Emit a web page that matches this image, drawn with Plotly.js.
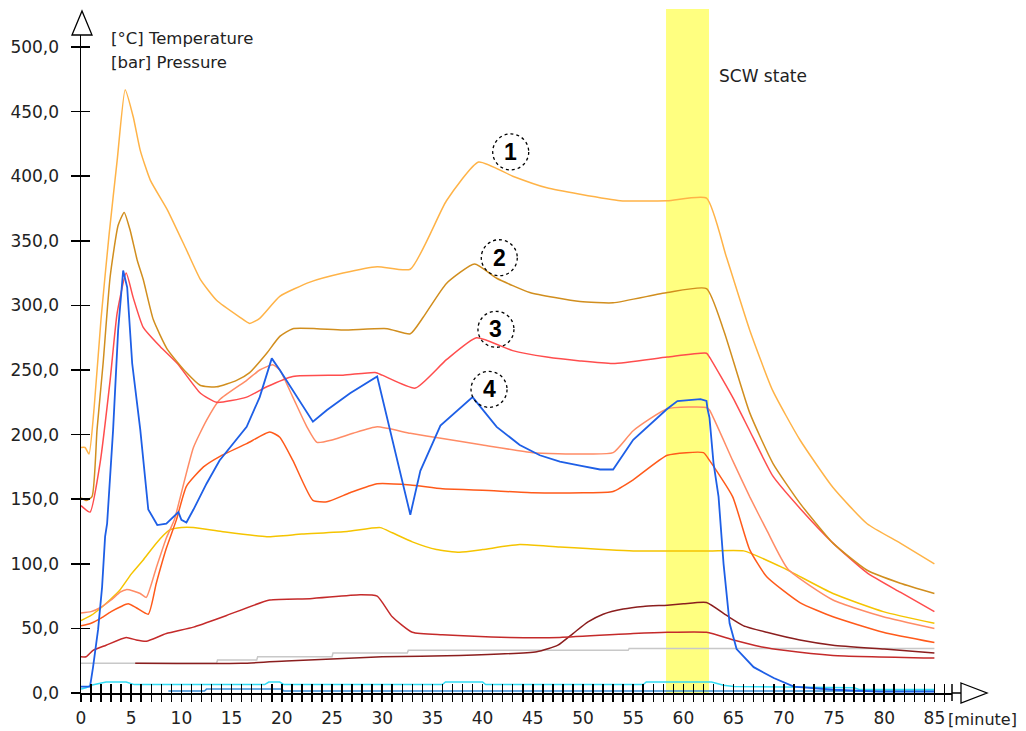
<!DOCTYPE html>
<html>
<head>
<meta charset="utf-8">
<script src="https://cdn.plot.ly/plotly-3.0.1.min.js"></script>
<style>html,body{margin:0;padding:0;background:#fff;}#chart{width:1026px;height:731px;}</style>
</head>
<body>
<div id="chart"></div>
<script>
// ---- data (minutes / values) ----
const t1 = [0, 0.4, 0.8, 1.3, 2, 2.8, 3.6, 4.4, 5.2, 5.9, 6.9, 8.6, 10.5, 11.9, 13.5, 15.8, 16.8, 17.8, 19.8, 22.8, 26.1, 29.5, 32.8, 36.4, 39.6, 43, 46.4, 49.7, 53.7, 58.4, 62.3, 64.3, 66.6, 68.9, 71.6, 74.9, 78.3, 81.6, 85];
const v1 = [190, 190, 185, 220, 290, 355, 412, 467, 446, 420, 397, 374, 343, 320, 304, 291, 286, 290, 307, 318, 325, 330, 328, 381, 411, 400, 391, 386, 381, 381, 383, 337, 281, 234, 196, 159, 131, 116, 100];

const t2 = [0, 0.5, 1.1, 1.6, 2.2, 2.9, 3.7, 4.3, 4.9, 5.6, 6.2, 7.2, 8.6, 10.5, 11.9, 13.5, 15.5, 16.8, 18.5, 19.8, 21.1, 23.5, 26.1, 30.5, 32.8, 34.1, 36.4, 39.2, 41.4, 44.7, 49.7, 53, 58.4, 62.3, 64, 66.6, 68.9, 71.6, 74.9, 78.3, 81.6, 85];
const v2 = [151, 149, 152, 204, 255, 322, 362, 372, 358, 335, 320, 289, 266, 248, 238, 237, 242, 248, 263, 276, 282, 282, 281, 282, 278, 291, 317, 332, 321, 310, 303, 302, 310, 313, 281, 217, 178, 147, 116, 95, 85, 77];

const t3 = [0, 0.9, 1.9, 2.9, 3.6, 4.5, 5.2, 6.2, 7.9, 9.6, 11.9, 13.5, 16.5, 18.5, 21.1, 26.1, 29.3, 30, 33.3, 36.4, 39.4, 43, 46.4, 49.7, 53, 58.4, 62.3, 62.6, 64.9, 66.6, 68.9, 71.6, 74.9, 78.3, 81.6, 85];
const v3 = [145, 140, 178, 242, 294, 325, 306, 283, 268, 255, 232, 225, 229, 237, 245, 246, 248, 246, 236, 258, 275, 265, 260, 257, 255, 260, 263, 260, 229, 203, 168, 143, 116, 93, 78, 63];

const t4 = [0, 0.9, 1.2, 1.7, 2.1, 2.4, 2.6, 3.2, 3.7, 4.2, 4.6, 5.1, 5.9, 6.7, 7.6, 8.5, 9.7, 10, 10.5, 11.2, 12.5, 13.8, 16.5, 17.8, 19, 19.8, 23.1, 24.5, 26.8, 29.5, 32.8, 33.8, 35.8, 39, 41.4, 43.7, 45.7, 47.7, 49.7, 51.7, 53, 55, 58.4, 59.4, 61.7, 62.3, 62.4, 62.6, 63, 63.5, 64, 64.6, 65.3, 67, 69, 71, 75, 79.5, 85];
const v4 = [5, 5, 20, 49, 82, 121, 131, 204, 281, 327, 314, 255, 204, 142, 130, 131, 140, 134, 132, 142, 162, 180, 206, 229, 259, 250, 210, 219, 232, 245, 138, 172, 207, 229, 206, 192, 184, 179, 176, 173, 173, 196, 220, 226, 227.5, 226, 220, 213, 178, 152, 100, 54, 34, 20, 11.6, 5, 2.5, 1, 1];

const t5 = [0, 1, 1.9, 3, 3.9, 4.5, 5.2, 5.9, 6.5, 7.5, 8.5, 9.3, 9.9, 11.2, 12.5, 13.8, 16.5, 17.8, 19.1, 19.8, 21.1, 22.5, 23.5, 25.1, 27.1, 29.5, 32.8, 36, 40, 45, 50, 53, 55, 58.4, 62.3, 62.6, 64.9, 66.6, 68.3, 70.4, 74.9, 79.9, 85];
const v5 = [62, 63, 66, 72, 78, 80, 79, 77, 74, 97, 120, 134, 152, 190, 211, 227, 242, 250, 254, 250, 229, 206, 194, 196, 201, 206, 201, 197, 192, 186, 185, 186, 203, 220, 221, 219, 180, 152, 126, 96, 72, 59, 50];

const t6 = [0, 1, 2, 3, 4, 4.7, 5.5, 6.7, 7.5, 8.5, 9.5, 10.5, 12.2, 13.8, 16.5, 18.8, 19.8, 21.1, 23.1, 24.5, 26.8, 29.5, 32.8, 36, 40, 45, 50, 53, 55, 58.4, 62, 62.6, 64.9, 66.6, 68.3, 71.6, 74.9, 79.9, 85];
const v6 = [52, 54, 58, 63, 67, 69, 66, 61, 85, 112, 134, 160, 175, 183, 193, 202, 198, 180, 149, 148, 155, 162, 161, 158, 157, 155, 155, 156, 165, 184, 186, 180, 152, 111, 90, 70, 59, 47, 39];

const t7 = [0, 1, 2, 3, 3.9, 5, 6.2, 7.5, 8.8, 10, 11.2, 14, 18.5, 22, 26.5, 29.8, 31, 33, 35.4, 37.7, 40, 43.7, 47.7, 55, 62.6, 66, 69.9, 74.9, 79.9, 85];
const v7 = [56, 60, 66, 73, 80, 92, 103, 116, 126, 128, 128, 125, 121, 123, 125, 128, 124, 117, 111, 109, 111, 115, 113, 110, 110, 110, 97, 77, 63, 54];

const t8 = [0, 0.5, 1.2, 2.5, 4.5, 5.5, 6.5, 8.5, 11.2, 14.5, 18.8, 22.8, 27.8, 29.5, 31, 33, 36, 42.7, 47.7, 55, 58.4, 62.3, 65, 67.6, 70, 74.9, 85];
const v8 = [28, 28, 33, 37, 43, 41, 40, 46, 51, 60, 72, 73, 76, 75, 59, 47, 45, 43, 43, 46, 47, 47, 41, 36, 33, 29, 27];

const t9 = [5.4, 16, 21, 30, 37.7, 45.4, 47.5, 49, 50.5, 52, 54, 56, 58.4, 60, 62.3, 64.3, 66, 68.3, 71.6, 74.9, 80, 85];
const v9 = [23, 23, 25, 28, 29, 32, 37, 46, 55, 61, 65, 67, 68, 69, 70, 60, 52, 47, 41, 37, 34, 31];

const t10 = [0, 13.5, 13.6, 17.5, 17.6, 25, 25.1, 32.5, 32.6, 54.5, 54.6, 85];
const v10 = [23, 23, 25.5, 25.5, 28, 28, 31, 31, 33, 33, 34.5, 34.5];

const t11 = [0, 0.5, 1, 2.5, 4.5, 5.3, 18.3, 18.7, 19.8, 20.2, 36, 36.3, 40, 40.3, 56, 56.3, 62.8, 64, 65, 77, 77.5, 85];
const v11 = [3, 4, 6, 8.5, 8.5, 6.5, 6.5, 8.5, 8.5, 6.5, 6.5, 8.5, 8.5, 6.5, 6.5, 8.5, 8.5, 6, 5, 4, 2.8, 2.8];

const t12 = [8.7, 12.3, 12.5, 20, 20.2, 85];
const v12 = [1.5, 1.5, 3, 3, 1.5, 1.5];

const scwStart = 58.27, scwEnd = 62.55;
const markerTime = [30], markerLevel = [-9.3];
const curveLabels = ['1', '2', '3', '4'];
const labelTime = [42.8, 41.66, 41.33, 40.64];
const labelLevel = [418.8, 336.9, 281.5, 235];

// ---- traces ----
function line(t, v, color, w, smooth) {
  const ln = {color: color, width: w || 1.5};
  if (smooth) { ln.shape = 'spline'; ln.smoothing = smooth; }
  return {x: t, y: v, type: 'scatter', mode: 'lines', line: ln, hoverinfo: 'skip'};
}
const traces = [
  line(t10, v10, '#C8C8C8'),
  line(t12, v12, '#3A8ED6'),
  line(t11, v11, '#33DDF5'),
  line(t9, v9, '#8B1E1E', 1.5, 0.5),
  line(t8, v8, '#C42A2A', 1.5, 0.5),
  line(t7, v7, '#F5C400', 1.5, 0.5),
  line(t6, v6, '#FF5A1A', 1.5, 0.5),
  line(t5, v5, '#FF8C66', 1.5, 0.5),
  line(t3, v3, '#FF4D4D', 1.5, 0.5),
  line(t2, v2, '#D18E1E', 1.5, 0.5),
  line(t1, v1, '#FFB347', 1.5, 0.5),
  line(t4, v4, '#1E5FE6', 1.8),
  {x: markerTime, y: markerLevel, type: 'scatter', mode: 'markers', cliponaxis: false,
   marker: {color: '#FFFF00', size: 18, line: {width: 0}}, hoverinfo: 'skip'},
  {x: [], y: [], xaxis: 'x2', yaxis: 'y2', type: 'scatter', mode: 'lines', hoverinfo: 'skip'}
];

const FONT = 'DejaVu Sans, Verdana, sans-serif';
const L = 81, R = 74, T = 35, B = 38;
const W = 1026 - L - R, H = 731 - T - B;
const px = xp => (xp - L) / W;
const py = yp => (731 - B - yp) / H;

const shapes = [
  {type: 'rect', xref: 'x', yref: 'paper', x0: scwStart, x1: scwEnd, y0: 0, y1: py(9), fillcolor: '#FFFF80', line: {width: 0}, layer: 'below'},
  // y-axis arrow
  {type: 'path', xref: 'paper', yref: 'paper', path: `M ${px(72)} ${py(35)} L ${px(82)} ${py(11)} L ${px(92)} ${py(35)} Z`, line: {color: '#000', width: 1.3}, fillcolor: '#fff'},
  // x-axis extension + arrow
  {type: 'line', xref: 'paper', yref: 'paper', x0: 1, x1: px(961), y0: 0, y1: 0, line: {color: '#000', width: 1.5}},
  {type: 'line', xref: 'paper', yref: 'paper', x0: 1, x1: 1, y0: py(684), y1: py(701), line: {color: '#000', width: 1.5}},
  {type: 'path', xref: 'paper', yref: 'paper', path: `M ${px(961)} ${py(683)} L ${px(987)} ${py(693)} L ${px(961)} ${py(703)} Z`, line: {color: '#000', width: 1.3}, fillcolor: '#fff'}
];
for (let i = 0; i < curveLabels.length; i++) {
  shapes.push({type: 'circle', xref: 'x', yref: 'y', xsizemode: 'pixel', ysizemode: 'pixel',
    xanchor: labelTime[i], yanchor: labelLevel[i], x0: -18, x1: 18, y0: -18, y1: 18,
    line: {color: '#000', width: 1.3, dash: 'dot'}, fillcolor: 'rgba(255,255,255,0)'});
}

const annotations = [
  {text: '[°C] Temperature', xref: 'paper', yref: 'paper', x: px(109), y: py(38), xanchor: 'left', yanchor: 'middle', showarrow: false, font: {family: FONT, size: 16.5, color: '#222'}},
  {text: '[bar] Pressure', xref: 'paper', yref: 'paper', x: px(109), y: py(63), xanchor: 'left', yanchor: 'middle', showarrow: false, font: {family: FONT, size: 16.5, color: '#222'}},
  {text: 'SCW state', xref: 'paper', yref: 'paper', x: px(717), y: py(76), xanchor: 'left', yanchor: 'middle', showarrow: false, font: {family: FONT, size: 17, color: '#222'}},
  {text: '[minute]', xref: 'paper', yref: 'paper', x: px(946), y: py(719), xanchor: 'left', yanchor: 'middle', showarrow: false, font: {family: FONT, size: 16, color: '#222'}}
];
for (let i = 0; i < curveLabels.length; i++) {
  annotations.push({text: curveLabels[i], xref: 'x', yref: 'y', x: labelTime[i], y: labelLevel[i], showarrow: false,
    xanchor: 'center', yanchor: 'middle', font: {family: 'Liberation Sans, Arial, sans-serif', size: 23, color: '#000', weight: 'bold'}});
}

const xr = [0, W / 10.04];
const yr = [0, H / 1.292];

const layout = {
  width: 1026, height: 731,
  margin: {l: L, r: R, t: T, b: B, pad: 0},
  paper_bgcolor: '#fff', plot_bgcolor: 'rgba(0,0,0,0)',
  showlegend: false,
  separators: ', ',
  font: {family: FONT, size: 17, color: '#222'},
  xaxis: {range: xr, autorange: false, showgrid: false, zeroline: false, showline: true, linecolor: '#000', linewidth: 1.5,
    ticks: 'outside', ticklen: 7, tickwidth: 1.5, tickcolor: '#000', tick0: 0, dtick: 5,
    minor: {ticks: 'outside', ticklen: 7, tickwidth: 1.5, tickcolor: '#000', dtick: 1, showgrid: false},
    tickfont: {family: FONT, size: 17, color: '#222'}, ticklabelstandoff: 2, fixedrange: true},
  yaxis: {range: yr, autorange: false, showgrid: false, zeroline: false, showline: true, linecolor: '#000', linewidth: 1.5,
    ticks: 'outside', ticklen: 9, tickwidth: 1.5, tickcolor: '#000', tick0: 0, dtick: 50, tickformat: '.1f',
    tickfont: {family: FONT, size: 17, color: '#222'}, ticklabelstandoff: 8, fixedrange: true},
  xaxis2: {overlaying: 'x', anchor: 'y2', range: xr, autorange: false, showgrid: false, zeroline: false, showline: false,
    ticks: 'inside', ticklen: 9, tickwidth: 1.5, tickcolor: '#000', tick0: 0, dtick: 1, showticklabels: false, fixedrange: true},
  yaxis2: {overlaying: 'y', anchor: 'x2', range: yr, autorange: false, showgrid: false, zeroline: false, showline: false,
    ticks: 'inside', ticklen: 9, tickwidth: 1.5, tickcolor: '#000', tick0: 0, dtick: 50, showticklabels: false, fixedrange: true},
  shapes: shapes,
  annotations: annotations
};

Plotly.newPlot('chart', traces, layout, {staticPlot: true, displayModeBar: false});
</script>
</body>
</html>
